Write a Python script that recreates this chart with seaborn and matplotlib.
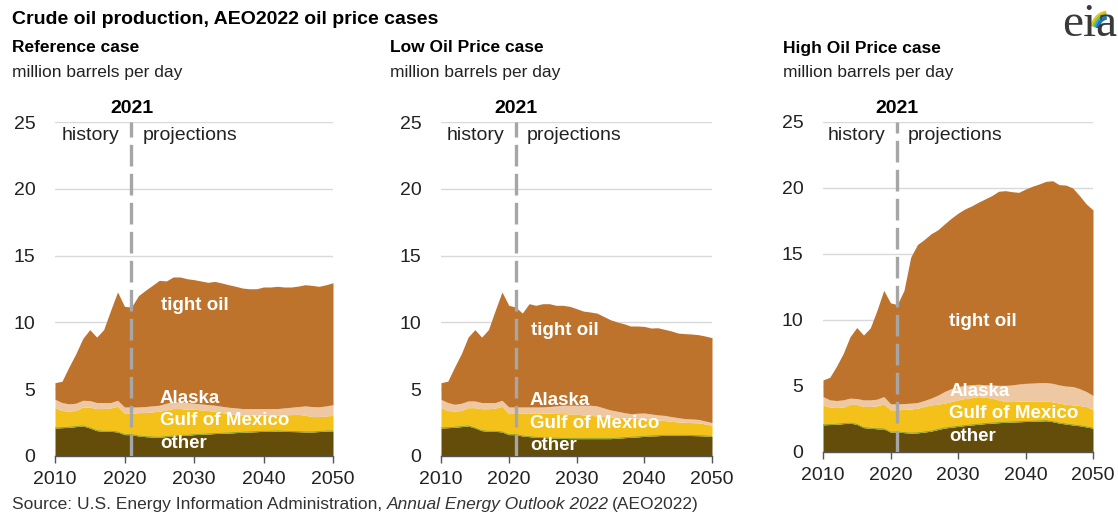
import matplotlib.pyplot as plt
import numpy as np
import pandas as pd
import seaborn as sns
from matplotlib.patches import Arc

years = list(range(2010, 2051))
layers = ["other", "Gulf of Mexico", "Alaska", "tight oil"]
colors = ["#644D0A", "#F4C11B", "#EDC8A3", "#BD732C"]

# reference case, million barrels per day
ref_other = [2.1, 2.12, 2.15, 2.2, 2.25, 2.1, 1.9, 1.85, 1.85, 1.8, 1.6, 1.6, 1.5, 1.45, 1.42, 1.4, 1.45, 1.5, 1.55, 1.55,
             1.6, 1.62, 1.65, 1.68, 1.7, 1.72, 1.75, 1.78, 1.8, 1.82, 1.85, 1.85, 1.87, 1.85, 1.83, 1.82, 1.8, 1.8, 1.83, 1.87, 1.88]
ref_gulf = [1.52, 1.28, 1.22, 1.2, 1.42, 1.55, 1.65, 1.7, 1.75, 1.92, 1.6, 1.6, 1.75, 1.8, 1.88, 1.95, 2.0, 2.05, 2.0, 1.95,
            1.9, 1.83, 1.75, 1.67, 1.55, 1.45, 1.35, 1.27, 1.25, 1.23, 1.19, 1.2, 1.18, 1.23, 1.27, 1.3, 1.25, 1.15, 1.12, 1.13, 1.16]
ref_alaska = [0.62, 0.6, 0.53, 0.55, 0.5, 0.5, 0.45, 0.45, 0.4, 0.45, 0.47, 0.47, 0.42, 0.45, 0.45, 0.45, 0.5, 0.5, 0.5, 0.5,
              0.45, 0.45, 0.45, 0.45, 0.47, 0.48, 0.5, 0.5, 0.5, 0.5, 0.51, 0.5, 0.5, 0.52, 0.55, 0.58, 0.7, 0.75, 0.73, 0.75, 0.8]
ref_tight = [1.25, 1.59, 2.76, 3.71, 4.63, 5.31, 4.9, 5.46, 6.9, 8.11, 7.53, 7.48, 8.33, 8.7, 9.02, 9.35, 9.15, 9.35, 9.35, 9.27,
             9.25, 9.2, 9.15, 9.27, 9.23, 9.17, 9.1, 9.02, 8.97, 8.97, 9.1, 9.1, 9.15, 9.05, 9.0, 9.02, 9.07, 9.07, 9.02, 9.07, 9.13]

# low oil price case
low_other = [2.1, 2.12, 2.15, 2.2, 2.25, 2.1, 1.9, 1.85, 1.85, 1.8, 1.6, 1.6, 1.5, 1.45, 1.4, 1.38, 1.35, 1.33, 1.32, 1.3,
             1.3, 1.3, 1.3, 1.3, 1.3, 1.3, 1.33, 1.37, 1.4, 1.43, 1.47, 1.5, 1.52, 1.55, 1.55, 1.55, 1.55, 1.53, 1.52, 1.5, 1.47]
low_gulf = [1.52, 1.28, 1.22, 1.2, 1.37, 1.52, 1.64, 1.69, 1.73, 1.92, 1.57, 1.6, 1.72, 1.77, 1.82, 1.84, 1.85, 1.85, 1.85, 1.85,
            1.82, 1.78, 1.75, 1.7, 1.65, 1.62, 1.55, 1.48, 1.43, 1.39, 1.33, 1.25, 1.18, 1.1, 1.05, 1.0, 0.97, 0.97, 0.96, 0.9, 0.83]
low_alaska = [0.62, 0.6, 0.5, 0.55, 0.5, 0.5, 0.46, 0.46, 0.42, 0.45, 0.5, 0.47, 0.45, 0.45, 0.45, 0.45, 0.5, 0.57, 0.63, 0.65,
              0.68, 0.72, 0.75, 0.75, 0.65, 0.53, 0.47, 0.4, 0.34, 0.38, 0.42, 0.4, 0.38, 0.39, 0.35, 0.32, 0.28, 0.27, 0.26, 0.22, 0.2]
low_tight = [1.25, 1.6, 2.79, 3.71, 4.78, 5.34, 4.9, 5.46, 6.9, 8.11, 7.61, 7.48, 7.03, 7.73, 7.61, 7.73, 7.7, 7.53, 7.48, 7.4,
             7.23, 7.05, 6.98, 6.95, 6.85, 6.75, 6.68, 6.65, 6.56, 6.53, 6.48, 6.43, 6.52, 6.44, 6.41, 6.33, 6.36, 6.36, 6.34, 6.36, 6.36]

# high oil price case
high_other = [2.06, 2.08, 2.1, 2.15, 2.19, 2.1, 1.85, 1.8, 1.76, 1.75, 1.51, 1.51, 1.47, 1.43, 1.45, 1.51, 1.58, 1.7, 1.81, 1.88,
              1.94, 2.0, 2.05, 2.1, 2.15, 2.19, 2.22, 2.25, 2.27, 2.29, 2.31, 2.33, 2.35, 2.37, 2.3, 2.19, 2.12, 2.05, 1.99, 1.9, 1.81]
high_gulf = [1.51, 1.32, 1.27, 1.25, 1.43, 1.5, 1.6, 1.65, 1.74, 1.9, 1.69, 1.69, 1.75, 1.82, 1.87, 1.94, 1.99, 1.92, 1.89, 1.94,
             2.01, 2.05, 2.07, 2.1, 2.0, 1.89, 1.73, 1.57, 1.55, 1.56, 1.54, 1.54, 1.52, 1.5, 1.5, 1.51, 1.5, 1.52, 1.53, 1.55, 1.39]
high_alaska = [0.63, 0.55, 0.53, 0.55, 0.46, 0.45, 0.5, 0.5, 0.5, 0.55, 0.45, 0.45, 0.45, 0.45, 0.43, 0.45, 0.51, 0.68, 0.88, 0.98,
               1.01, 1.0, 0.98, 0.93, 0.95, 1.0, 1.1, 1.23, 1.26, 1.3, 1.35, 1.35, 1.38, 1.39, 1.4, 1.38, 1.38, 1.39, 1.28, 1.13, 1.08]
high_tight = [1.26, 1.71, 2.6, 3.52, 4.65, 5.38, 4.91, 5.45, 6.74, 8.05, 7.65, 7.52, 8.58, 11.07, 11.97, 12.2, 12.45, 12.53, 12.7, 12.91,
              13.13, 13.36, 13.54, 13.79, 14.07, 14.34, 14.7, 14.75, 14.64, 14.52, 14.72, 14.91, 15.05, 15.24, 15.35, 15.17, 15.22, 15.04, 14.62, 14.21, 14.06]

panels = [
    ("Reference case", [ref_other, ref_gulf, ref_alaska, ref_tight]),
    ("Low Oil Price case", [low_other, low_gulf, low_alaska, low_tight]),
    ("High Oil Price case", [high_other, high_gulf, high_alaska, high_tight]),
]

W, H = 1118, 515
# axes boxes in pixels: left, top (y=25), right, bottom (y=0)
boxes = [(55, 122, 333, 456), (441, 122, 712, 456), (823, 122, 1093, 452)]
title_x = [12, 390, 783]
# label anchors (x year, y values for tight oil / Alaska / Gulf / other)
label_x = [2025.1, 2023.1, 2028.7]
tight_pos = [(2030.1, 11.3), (2028.3, 9.4), (2033.7, 9.9)]
label_y = [(4.34, 2.62, 0.97), (4.12, 2.47, 0.75), (4.62, 2.95, 1.21)]

sns.set_theme(style="white")
plt.rcParams["font.family"] = ["Liberation Sans", "DejaVu Sans"]

fig = plt.figure(figsize=(W / 100, H / 100), dpi=100)

for i, (name, series) in enumerate(panels):
    l, t, r, b = boxes[i]
    ax = fig.add_axes([l / W, 1 - b / H, (r - l) / W, (b - t) / H])
    df = pd.DataFrame(dict(zip(layers, series)), index=years)
    ax.stackplot(df.index, *[df[c] for c in layers], colors=colors, linewidth=0)
    ax.plot(df.index, df["other"], color="#7FA33A", lw=0.6)

    ax.set_xlim(2010, 2050)
    ax.set_ylim(0, 25)
    ax.set_xticks([2010, 2020, 2030, 2040, 2050])
    ax.set_yticks([0, 5, 10, 15, 20, 25])
    ax.tick_params(axis="both", labelsize=14, colors="#222222", pad=4)
    ax.tick_params(axis="x", length=5, width=1, color="#555555", direction="out", bottom=True, pad=6)
    ax.tick_params(axis="y", length=0, pad=14)
    ax.grid(axis="y", color="#D9D9D9", lw=1)
    ax.set_axisbelow(True)
    sns.despine(ax=ax, left=True, top=True, right=True)
    ax.spines["bottom"].set_color("#555555")
    ax.spines["bottom"].set_linewidth(1)

    ax.axvline(2021, color="#A6A6A6", lw=2.4, dashes=(6.5, 2.2), zorder=5)
    ax.text(2021, 25.4, "2021", ha="center", va="bottom", fontsize=14, fontweight="bold", color="black", clip_on=False)
    ax.text(2019.3, 24.0, "history", ha="right", va="center", fontsize=14, color="#222222")
    ax.text(2022.6, 24.0, "projections", ha="left", va="center", fontsize=14, color="#222222")

    tx, ty = tight_pos[i]
    ax.text(tx, ty, "tight oil", ha="center", va="center", fontsize=13.5, fontweight="bold", color="white")
    ya, yg, yo = label_y[i]
    for txt, yy in zip(["Alaska", "Gulf of Mexico", "other"], [ya, yg, yo]):
        ax.text(label_x[i], yy, txt, ha="left", va="center", fontsize=13.5, fontweight="bold", color="white", zorder=6)

    fig.text(title_x[i] / W, 1 - 48 / H, name, ha="left", va="center", fontsize=12.5, fontweight="bold", color="black")
    fig.text(title_x[i] / W, 1 - 72 / H, "million barrels per day", ha="left", va="center", fontsize=12.5, color="#222222")

fig.text(12 / W, 1 - 20 / H, "Crude oil production, AEO2022 oil price cases", ha="left", va="center",
         fontsize=14, fontweight="bold", color="black")

src_y = 1 - 504 / H
t1 = fig.text(12 / W, src_y, "Source: U.S. Energy Information Administration, ", ha="left", va="center",
              fontsize=12.5, color="#333333")
fig.canvas.draw()
renderer = fig.canvas.get_renderer()
bb = t1.get_window_extent(renderer)
t2 = fig.text(bb.x1 / W, src_y, "Annual Energy Outlook 2022", ha="left", va="center", fontsize=12.5,
              style="italic", color="#333333")
bb2 = t2.get_window_extent(renderer)
fig.text(bb2.x1 / W + 3 / W, src_y, "(AEO2022)", ha="left", va="center", fontsize=12.5, color="#333333")

# eia logo: text plus coloured swoosh
fig.text(1062 / W, 1 - 36 / H, "eia", ha="left", va="baseline", fontsize=34,
         family=["Liberation Serif", "DejaVu Serif"], color="#3A3A3A")
logo = fig.add_axes([1060 / W, 1 - 30 / H, 58 / W, 30 / H])
logo.set_xlim(0, 58)
logo.set_ylim(0, 30)
logo.axis("off")
for k, c in enumerate(["#F2C21B", "#8DC63F", "#2AA7DF", "#1C75BC"]):
    logo.add_patch(Arc((48, -2), 34 - 4 * k, 40 - 4 * k, theta1=95, theta2=160, color=c, lw=2.2))

fig.savefig("out.png", dpi=100)
